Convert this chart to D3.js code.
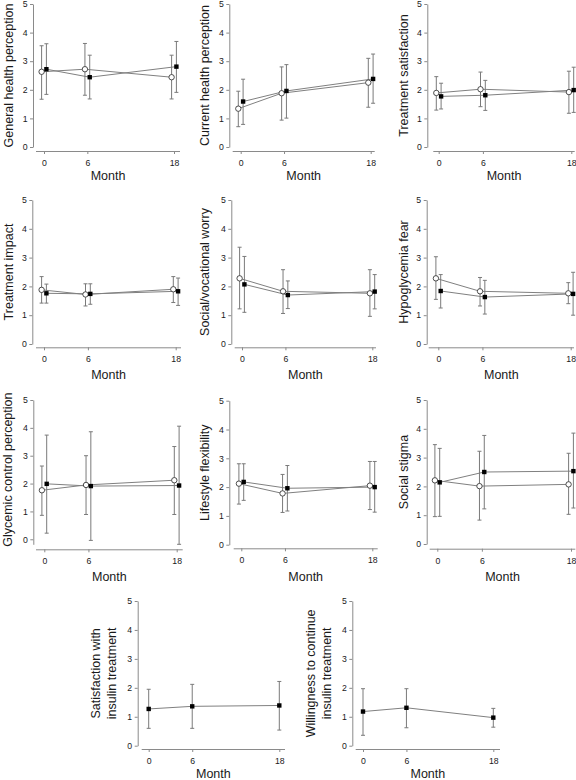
<!DOCTYPE html>
<html>
<head>
<meta charset="utf-8">
<script src="https://cdn.jsdelivr.net/npm/d3@7"></script>
<style>
  html, body { margin: 0; padding: 0; background: #fff; }
  svg { display: block; font-family: Arial, "Liberation Sans", sans-serif; }
</style>
</head>
<body>
<script>
// ---------------- DATA ----------------
const months = [0, 6, 18];
const yTicks = [0, 1, 2, 3, 4, 5];

const titles = [
  ["General health perception"],
  ["Current health perception"],
  ["Treatment satisfaction"],
  ["Treatment impact"],
  ["Social/vocational worry"],
  ["Hypoglycemia fear"],
  ["Glycemic control perception"],
  ["Lifestyle flexibility"],
  ["Social stigma"],
  ["Satisfaction with", "insulin treatment"],
  ["Willingness to continue", "insulin treatment"]
];

// open-circle series (null = not present)
const circleMean = [
  [2.63, 2.72, 2.44],
  [1.34, 1.88, 2.25],
  [1.89, 2.02, 1.92],
  [1.88, 1.72, 1.90],
  [2.28, 1.83, 1.76],
  [2.28, 1.83, 1.76],
  [1.76, 1.95, 2.12],
  [2.12, 1.78, 2.05],
  [2.21, 2.01, 2.07],
  null,
  null
];
const circleHi = [
  [3.54, 3.62, 3.21],
  [1.95, 2.80, 3.10],
  [2.46, 2.62, 2.65],
  [2.34, 2.09, 2.34],
  [3.36, 2.58, 2.58],
  [3.03, 2.31, 2.13],
  [2.63, 3.00, 3.33],
  [2.81, 2.44, 2.89],
  [3.45, 3.22, 3.15],
  null,
  null
];
const circleLo = [
  [1.67, 1.81, 1.68],
  [0.71, 0.94, 1.39],
  [1.29, 1.41, 1.18],
  [1.42, 1.32, 1.44],
  [1.22, 1.06, 0.96],
  [1.55, 1.32, 1.40],
  [0.86, 0.89, 0.89],
  [1.41, 1.12, 1.22],
  [0.95, 0.83, 1.03],
  null,
  null
];

// filled-square series
const squareMean = [
  [2.72, 2.44, 2.81],
  [1.59, 1.96, 2.38],
  [1.77, 1.81, 1.99],
  [1.76, 1.74, 1.83],
  [2.07, 1.70, 1.82],
  [1.84, 1.63, 1.74],
  [1.99, 1.91, 1.93],
  [2.18, 1.96, 2.00],
  [2.14, 2.50, 2.53],
  [1.27, 1.36, 1.39],
  [1.18, 1.31, 0.97]
];
const squareHi = [
  [3.61, 3.21, 3.69],
  [2.37, 2.88, 3.25],
  [2.23, 2.33, 2.79],
  [2.08, 2.09, 2.29],
  [3.04, 2.19, 2.41],
  [2.41, 2.21, 2.49],
  [3.74, 3.86, 4.06],
  [2.81, 2.75, 2.89],
  [3.32, 3.77, 3.85],
  [1.95, 2.12, 2.22],
  [1.97, 1.97, 1.29]
];
const squareLo = [
  [1.84, 1.68, 1.91],
  [0.79, 1.01, 1.53],
  [1.33, 1.28, 1.21],
  [1.42, 1.38, 1.34],
  [1.10, 1.23, 1.22],
  [1.25, 1.04, 1.00],
  [0.22, -0.04, -0.18],
  [1.54, 1.17, 1.13],
  [0.96, 1.22, 1.25],
  [0.60, 0.60, 0.54],
  [0.36, 0.62, 0.64]
];

// ---------------- LAYOUT (pixels) ----------------
const layout = [
  {yAx: 33,    yTop: 4,     yBot: 147,   ymin: 0,     xAxY: 151,   xs: 36,    xe: 180,   x0: 44,    x18: 174,   labX: [12.5],  monthY: 180,   off: 2.4},
  {yAx: 229.3, yTop: 4,     yBot: 147,   ymin: 0,     xAxY: 151,   xs: 232.7, xe: 374.7, x0: 240.7, x18: 370.7, labX: [209],   monthY: 180,   off: 2.4},
  {yAx: 427.3, yTop: 4,     yBot: 147,   ymin: 0,     xAxY: 151,   xs: 433.3, xe: 574.7, x0: 438.7, x18: 571.3, labX: [407.5], monthY: 180,   off: 2.4},
  {yAx: 32.3,  yTop: 200,   yBot: 344,   ymin: 0,     xAxY: 347.3, xs: 36,    xe: 181,   x0: 44,    x18: 175.7, labX: [12.5],  monthY: 378.5, off: 2.4},
  {yAx: 231.3, yTop: 200,   yBot: 344,   ymin: 0,     xAxY: 347.3, xs: 234.7, xe: 376,   x0: 242,   x18: 372.3, labX: [209],   monthY: 378.5, off: 2.4},
  {yAx: 426.7, yTop: 200,   yBot: 344,   ymin: 0,     xAxY: 347.3, xs: 428.7, xe: 574,   x0: 438.3, x18: 570.7, labX: [407.5], monthY: 378.5, off: 2.4},
  {yAx: 33.3,  yTop: 400,   yBot: 544.3, ymin: -0.18, xAxY: 549.3, xs: 36,    xe: 182.7, x0: 44.3,  x18: 176.7, labX: [11.5],  monthY: 580.5, off: 2.4},
  {yAx: 229.3, yTop: 400.7, yBot: 544.7, ymin: 0,     xAxY: 548.3, xs: 233.7, xe: 377.7, x0: 241.3, x18: 372.3, labX: [209],   monthY: 580.5, off: 2.4},
  {yAx: 426.7, yTop: 400,   yBot: 544,   ymin: 0,     xAxY: 548.7, xs: 429.7, xe: 575.3, x0: 437.3, x18: 571,   labX: [407.5], monthY: 580.5, off: 2.4},
  {yAx: 137.7, yTop: 601,   yBot: 745.7, ymin: 0,     xAxY: 749,   xs: 141.7, xe: 285,   x0: 148.7, x18: 279.3, labX: [100, 116], monthY: 778, off: 0},
  {yAx: 352.3, yTop: 601,   yBot: 745.7, ymin: 0,     xAxY: 749,   xs: 355.7, xe: 500,   x0: 363,   x18: 493.3, labX: [315, 330.5], monthY: 778, off: 0}
];

// ---------------- STYLE ----------------
const axisColor = "#8a8a8a";
const lineColor = "#808080";
const errColor = "#7a7a7a";
const textColor = "#1a1a1a";

const svg = d3.select("body").append("svg")
  .attr("width", 576).attr("height", 780);

layout.forEach((L, i) => {
  const g = svg.append("g");
  const x = d3.scaleLinear().domain([0, 18]).range([L.x0, L.x18]);
  const y = d3.scaleLinear().domain([L.ymin, 5]).range([L.yBot, L.yTop]);

  // y axis
  const ya = g.append("g")
    .attr("transform", `translate(${L.yAx},0)`)
    .call(d3.axisLeft(y).tickValues(yTicks).tickSize(3).tickSizeOuter(0).tickPadding(2.5).tickFormat(d3.format("d")));
  ya.select(".domain").attr("stroke", axisColor);
  ya.selectAll(".tick line").attr("stroke", axisColor);
  ya.selectAll(".tick text").attr("fill", textColor).attr("font-size", 8.7)
    .attr("font-family", "Arial, 'Liberation Sans', sans-serif");

  // x axis
  const xa = g.append("g")
    .attr("transform", `translate(0,${L.xAxY})`)
    .call(d3.axisBottom(x).tickValues(months).tickSize(3).tickSizeOuter(0).tickPadding(6).tickFormat(d3.format("d")));
  xa.select(".domain").remove();
  xa.append("line").attr("x1", L.xs).attr("x2", L.xe).attr("y1", 0.5).attr("y2", 0.5)
    .attr("stroke", axisColor);
  xa.selectAll(".tick line").attr("stroke", axisColor);
  xa.selectAll(".tick text").attr("fill", textColor).attr("font-size", 8.7)
    .attr("font-family", "Arial, 'Liberation Sans', sans-serif");

  // Month label
  g.append("text")
    .attr("x", (L.xs + L.xe) / 2).attr("y", L.monthY)
    .attr("text-anchor", "middle").attr("font-size", 12.5).attr("fill", textColor)
    .text("Month");

  // y title
  const cy = (L.yTop + y(0)) / 2;
  titles[i].forEach((t, k) => {
    g.append("text")
      .attr("transform", `translate(${L.labX[k]},${cy}) rotate(-90)`)
      .attr("text-anchor", "middle").attr("font-size", 12.5).attr("fill", textColor)
      .text(t);
  });

  const series = [];
  if (circleMean[i]) series.push({type: "circle", mean: circleMean[i], hi: circleHi[i], lo: circleLo[i], dx: -L.off});
  series.push({type: "square", mean: squareMean[i], hi: squareHi[i], lo: squareLo[i], dx: L.off});

  const line = d3.line();
  // connecting lines
  series.forEach(s => {
    const pts = months.map((m, j) => [x(m) + s.dx, y(s.mean[j])]);
    g.append("path").attr("d", line(pts)).attr("fill", "none")
      .attr("stroke", lineColor).attr("stroke-width", 1);
  });
  // error bars
  series.forEach(s => {
    months.forEach((m, j) => {
      const cx = x(m) + s.dx;
      const eg = g.append("g").attr("stroke", errColor).attr("stroke-width", 1).attr("fill", "none");
      eg.append("line").attr("x1", cx).attr("x2", cx).attr("y1", y(s.hi[j])).attr("y2", y(s.lo[j]));
      eg.append("line").attr("x1", cx - 2).attr("x2", cx + 2).attr("y1", y(s.hi[j])).attr("y2", y(s.hi[j]));
      eg.append("line").attr("x1", cx - 2).attr("x2", cx + 2).attr("y1", y(s.lo[j])).attr("y2", y(s.lo[j]));
    });
  });
  // markers
  series.forEach(s => {
    months.forEach((m, j) => {
      const cx = x(m) + s.dx, cyy = y(s.mean[j]);
      if (s.type === "circle") {
        g.append("circle").attr("cx", cx).attr("cy", cyy).attr("r", 2.7)
          .attr("fill", "#fff").attr("stroke", "#3a3a3a").attr("stroke-width", 0.9);
      } else {
        g.append("rect").attr("x", cx - 2.2).attr("y", cyy - 2.2).attr("width", 4.4).attr("height", 4.4)
          .attr("fill", "#000");
      }
    });
  });
});
</script>
</body>
</html>
